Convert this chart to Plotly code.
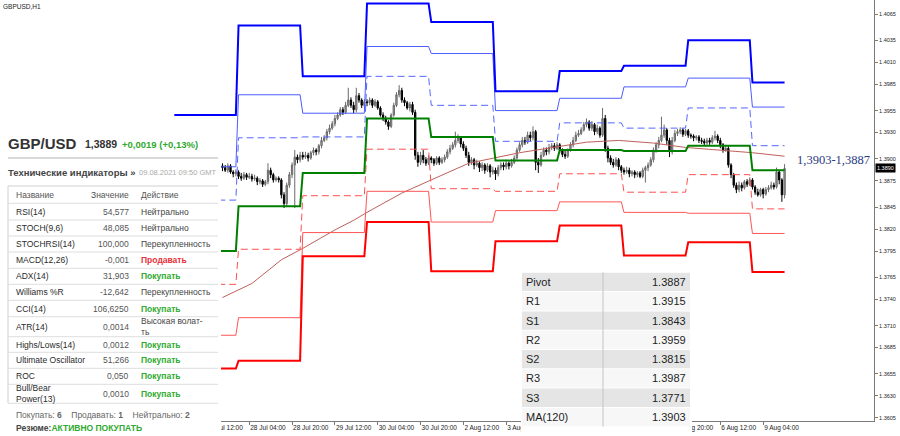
import plotly.graph_objects as go

# ---------------- DATA ----------------
# bar index: 0 = 27 Jul 00:00 (H1 bars, weekends skipped)
first_bar = 18
opens = [
    1.3892, 1.3890, 1.3887, 1.3892, 1.3885, 1.3883, 1.3885, 1.3880, 1.3878, 1.3882,
    1.3879, 1.3880, 1.3877, 1.3878, 1.3874, 1.3875, 1.3871, 1.3874, 1.3887, 1.3882,
    1.3876, 1.3878, 1.3876, 1.3859, 1.3849, 1.3870, 1.3882, 1.3893, 1.3902, 1.3899,
    1.3904, 1.3902, 1.3904, 1.3901, 1.3907, 1.3910, 1.3908, 1.3915, 1.3921, 1.3924,
    1.3931, 1.3935, 1.3940, 1.3946, 1.3950, 1.3956, 1.3953, 1.3961, 1.3967, 1.3961,
    1.3956, 1.3972, 1.3967, 1.3961, 1.3965, 1.3964, 1.3967, 1.3961, 1.3965, 1.3958,
    1.3950, 1.3946, 1.3942, 1.3937, 1.3950, 1.3961, 1.3973, 1.3978, 1.3967, 1.3964,
    1.3958, 1.3962, 1.3953, 1.3904, 1.3896, 1.3904, 1.3899, 1.3895, 1.3901, 1.3899,
    1.3895, 1.3901, 1.3896, 1.3899, 1.3902, 1.3908, 1.3912, 1.3916, 1.3921, 1.3924,
    1.3917, 1.3912, 1.3904, 1.3896, 1.3899, 1.3893, 1.3895, 1.3890, 1.3893, 1.3887,
    1.3892, 1.3885, 1.3887, 1.3883, 1.3890, 1.3893, 1.3891, 1.3895, 1.3892, 1.3896,
    1.3901, 1.3910, 1.3916, 1.3921, 1.3919, 1.3927, 1.3924, 1.3931, 1.3896, 1.3893,
    1.3904, 1.3910, 1.3908, 1.3913, 1.3915, 1.3912, 1.3916, 1.3910, 1.3905, 1.3903,
    1.3910, 1.3916, 1.3921, 1.3927, 1.3929, 1.3933, 1.3939, 1.3942, 1.3935, 1.3939,
    1.3931, 1.3935, 1.3927, 1.3946, 1.3912, 1.3901, 1.3896, 1.3893, 1.3899, 1.3891,
    1.3887, 1.3885, 1.3887, 1.3883, 1.3885, 1.3882, 1.3884, 1.3880, 1.3887, 1.3890,
    1.3893, 1.3899, 1.3910, 1.3916, 1.3921, 1.3927, 1.3933, 1.3921, 1.3908, 1.3921,
    1.3929, 1.3931, 1.3933, 1.3928, 1.3932, 1.3927, 1.3926, 1.3924, 1.3925, 1.3921,
    1.3920, 1.3918, 1.3921, 1.3919, 1.3924, 1.3926, 1.3921, 1.3916, 1.3910, 1.3912,
    1.3893, 1.3882, 1.3870, 1.3865, 1.3870, 1.3867, 1.3874, 1.3871, 1.3876, 1.3868,
    1.3862, 1.3859, 1.3865, 1.3860, 1.3865, 1.3867, 1.3870, 1.3868, 1.3885, 1.3876,
    1.3859,
]
highs = [
    1.3895, 1.3893, 1.3895, 1.3894, 1.3887, 1.3888, 1.3887, 1.3884, 1.3885, 1.3884,
    1.3884, 1.3883, 1.3882, 1.3880, 1.3878, 1.3877, 1.3876, 1.3895, 1.3890, 1.3884,
    1.3880, 1.3880, 1.3878, 1.3862, 1.3873, 1.3885, 1.3896, 1.3910, 1.3905, 1.3908,
    1.3908, 1.3908, 1.3907, 1.3909, 1.3913, 1.3912, 1.3917, 1.3925, 1.3927, 1.3934,
    1.3939, 1.3943, 1.3950, 1.3953, 1.3959, 1.3959, 1.3965, 1.3981, 1.3970, 1.3965,
    1.3981, 1.3975, 1.3969, 1.3968, 1.3968, 1.3970, 1.3969, 1.3968, 1.3967, 1.3960,
    1.3953, 1.3949, 1.3944, 1.3952, 1.3964, 1.3976, 1.3984, 1.3981, 1.3970, 1.3966,
    1.3965, 1.3965, 1.3956, 1.3908, 1.3908, 1.3910, 1.3902, 1.3904, 1.3903, 1.3901,
    1.3903, 1.3903, 1.3902, 1.3905, 1.3911, 1.3916, 1.3919, 1.3931, 1.3928, 1.3926,
    1.3920, 1.3915, 1.3908, 1.3902, 1.3901, 1.3899, 1.3897, 1.3896, 1.3895, 1.3895,
    1.3894, 1.3891, 1.3890, 1.3893, 1.3896, 1.3896, 1.3899, 1.3897, 1.3900, 1.3904,
    1.3913, 1.3919, 1.3925, 1.3925, 1.3931, 1.3931, 1.3937, 1.3933, 1.3901, 1.3908,
    1.3913, 1.3913, 1.3917, 1.3918, 1.3918, 1.3919, 1.3918, 1.3912, 1.3909, 1.3912,
    1.3919, 1.3925, 1.3931, 1.3933, 1.3936, 1.3942, 1.3946, 1.3944, 1.3943, 1.3941,
    1.3939, 1.3937, 1.3958, 1.3950, 1.3915, 1.3904, 1.3900, 1.3902, 1.3901, 1.3893,
    1.3890, 1.3891, 1.3890, 1.3887, 1.3887, 1.3886, 1.3886, 1.3890, 1.3892, 1.3896,
    1.3902, 1.3913, 1.3919, 1.3925, 1.3948, 1.3939, 1.3935, 1.3924, 1.3925, 1.3933,
    1.3934, 1.3936, 1.3935, 1.3934, 1.3934, 1.3929, 1.3928, 1.3927, 1.3927, 1.3924,
    1.3923, 1.3924, 1.3924, 1.3927, 1.3932, 1.3928, 1.3924, 1.3918, 1.3916, 1.3915,
    1.3895, 1.3884, 1.3873, 1.3874, 1.3873, 1.3876, 1.3877, 1.3879, 1.3878, 1.3870,
    1.3866, 1.3867, 1.3867, 1.3868, 1.3870, 1.3874, 1.3873, 1.3890, 1.3887, 1.3878,
    1.3894,
]
lows = [
    1.3886, 1.3885, 1.3884, 1.3883, 1.3879, 1.3880, 1.3877, 1.3875, 1.3876, 1.3876,
    1.3877, 1.3874, 1.3875, 1.3870, 1.3871, 1.3868, 1.3869, 1.3871, 1.3878, 1.3873,
    1.3874, 1.3873, 1.3855, 1.3844, 1.3846, 1.3867, 1.3878, 1.3844, 1.3895, 1.3896,
    1.3899, 1.3900, 1.3897, 1.3899, 1.3904, 1.3904, 1.3905, 1.3912, 1.3919, 1.3921,
    1.3928, 1.3933, 1.3937, 1.3944, 1.3948, 1.3950, 1.3951, 1.3959, 1.3958, 1.3952,
    1.3953, 1.3964, 1.3958, 1.3959, 1.3960, 1.3961, 1.3958, 1.3959, 1.3956, 1.3948,
    1.3943, 1.3939, 1.3933, 1.3935, 1.3948, 1.3959, 1.3970, 1.3964, 1.3960, 1.3956,
    1.3954, 1.3950, 1.3899, 1.3891, 1.3893, 1.3895, 1.3892, 1.3893, 1.3895, 1.3892,
    1.3893, 1.3893, 1.3894, 1.3896, 1.3900, 1.3905, 1.3910, 1.3913, 1.3918, 1.3913,
    1.3909, 1.3901, 1.3892, 1.3893, 1.3888, 1.3891, 1.3885, 1.3886, 1.3883, 1.3885,
    1.3879, 1.3882, 1.3876, 1.3880, 1.3887, 1.3887, 1.3888, 1.3888, 1.3890, 1.3894,
    1.3899, 1.3908, 1.3913, 1.3916, 1.3917, 1.3920, 1.3921, 1.3887, 1.3884, 1.3891,
    1.3902, 1.3904, 1.3905, 1.3910, 1.3909, 1.3910, 1.3907, 1.3902, 1.3900, 1.3901,
    1.3908, 1.3913, 1.3919, 1.3925, 1.3927, 1.3931, 1.3936, 1.3932, 1.3932, 1.3927,
    1.3928, 1.3924, 1.3925, 1.3908, 1.3896, 1.3893, 1.3890, 1.3891, 1.3887, 1.3884,
    1.3882, 1.3883, 1.3879, 1.3880, 1.3878, 1.3879, 1.3878, 1.3878, 1.3873, 1.3886,
    1.3891, 1.3896, 1.3907, 1.3912, 1.3919, 1.3924, 1.3916, 1.3902, 1.3905, 1.3919,
    1.3926, 1.3928, 1.3925, 1.3926, 1.3924, 1.3923, 1.3920, 1.3921, 1.3918, 1.3917,
    1.3915, 1.3916, 1.3916, 1.3917, 1.3921, 1.3918, 1.3912, 1.3907, 1.3908, 1.3890,
    1.3878, 1.3867, 1.3861, 1.3862, 1.3863, 1.3865, 1.3868, 1.3869, 1.3865, 1.3859,
    1.3857, 1.3857, 1.3855, 1.3858, 1.3862, 1.3865, 1.3865, 1.3866, 1.3871, 1.3851,
    1.3855,
]
closes = [
    1.3890, 1.3887, 1.3892, 1.3885, 1.3883, 1.3885, 1.3880, 1.3878, 1.3882, 1.3879,
    1.3880, 1.3877, 1.3878, 1.3874, 1.3875, 1.3871, 1.3874, 1.3887, 1.3882, 1.3876,
    1.3878, 1.3876, 1.3859, 1.3849, 1.3870, 1.3882, 1.3893, 1.3902, 1.3899, 1.3904,
    1.3902, 1.3904, 1.3901, 1.3907, 1.3910, 1.3908, 1.3915, 1.3921, 1.3924, 1.3931,
    1.3935, 1.3940, 1.3946, 1.3950, 1.3956, 1.3953, 1.3961, 1.3967, 1.3961, 1.3956,
    1.3972, 1.3967, 1.3961, 1.3965, 1.3964, 1.3967, 1.3961, 1.3965, 1.3958, 1.3950,
    1.3946, 1.3942, 1.3937, 1.3950, 1.3961, 1.3973, 1.3978, 1.3967, 1.3964, 1.3958,
    1.3962, 1.3953, 1.3904, 1.3896, 1.3904, 1.3899, 1.3895, 1.3901, 1.3899, 1.3895,
    1.3901, 1.3896, 1.3899, 1.3902, 1.3908, 1.3912, 1.3916, 1.3921, 1.3924, 1.3917,
    1.3912, 1.3904, 1.3896, 1.3899, 1.3893, 1.3895, 1.3890, 1.3893, 1.3887, 1.3892,
    1.3885, 1.3887, 1.3883, 1.3890, 1.3893, 1.3891, 1.3895, 1.3892, 1.3896, 1.3901,
    1.3910, 1.3916, 1.3921, 1.3919, 1.3927, 1.3924, 1.3931, 1.3896, 1.3893, 1.3904,
    1.3910, 1.3908, 1.3913, 1.3915, 1.3912, 1.3916, 1.3910, 1.3905, 1.3903, 1.3910,
    1.3916, 1.3921, 1.3927, 1.3929, 1.3933, 1.3939, 1.3942, 1.3935, 1.3939, 1.3931,
    1.3935, 1.3927, 1.3946, 1.3912, 1.3901, 1.3896, 1.3893, 1.3899, 1.3891, 1.3887,
    1.3885, 1.3887, 1.3883, 1.3885, 1.3882, 1.3884, 1.3880, 1.3887, 1.3890, 1.3893,
    1.3899, 1.3910, 1.3916, 1.3921, 1.3927, 1.3933, 1.3921, 1.3908, 1.3921, 1.3929,
    1.3931, 1.3933, 1.3928, 1.3932, 1.3927, 1.3926, 1.3924, 1.3925, 1.3921, 1.3920,
    1.3918, 1.3921, 1.3919, 1.3924, 1.3926, 1.3921, 1.3916, 1.3910, 1.3912, 1.3893,
    1.3882, 1.3870, 1.3865, 1.3870, 1.3867, 1.3874, 1.3871, 1.3876, 1.3868, 1.3862,
    1.3859, 1.3865, 1.3860, 1.3865, 1.3867, 1.3870, 1.3868, 1.3885, 1.3876, 1.3859,
    1.3889,
]

# daily pivot levels (one value per trading day)
pivot_days = ["27 Jul", "28 Jul", "29 Jul", "30 Jul", "2 Aug", "3 Aug", "4 Aug", "5 Aug", "6 Aug", "9 Aug"]
r3 = [1.3950, 1.4052, 1.3994, 1.4077, 1.4056, 1.3977, 1.4000, 1.4006, 1.4035, 1.3987]
r2 = [1.3891, 1.3973, 1.3952, 1.4028, 1.4020, 1.3955, 1.3969, 1.3982, 1.3992, 1.3959]
r1 = [1.3853, 1.3924, 1.3925, 1.3994, 1.3961, 1.3920, 1.3941, 1.3935, 1.3958, 1.3915]
pp = [1.3795, 1.3846, 1.3884, 1.3946, 1.3925, 1.3898, 1.3910, 1.3909, 1.3915, 1.3887]
s1 = [1.3757, 1.3797, 1.3858, 1.3911, 1.3866, 1.3863, 1.3883, 1.3862, 1.3882, 1.3843]
s2 = [1.3699, 1.3719, 1.3816, 1.3863, 1.3828, 1.3841, 1.3851, 1.3839, 1.3838, 1.3815]
s3 = [1.3661, 1.3670, 1.3789, 1.3828, 1.3772, 1.3806, 1.3824, 1.3790, 1.3805, 1.3771]

# MA(120)
ma_bars = [18, 29, 40, 48, 60, 67, 72, 85, 96, 110, 129, 141, 154, 166, 179, 191, 204, 216, 228]
ma_vals = [1.3742, 1.3758, 1.3785, 1.3798, 1.3819, 1.3830, 1.3839, 1.3861, 1.3876, 1.3895,
           1.3907, 1.3913, 1.3919, 1.3921, 1.3918, 1.3913, 1.3910, 1.3907, 1.3903]

ytick_vals = [1.4065, 1.4035, 1.4010, 1.3985, 1.3955, 1.3930, 1.3900, 1.3875, 1.3845,
              1.3820, 1.3795, 1.3765, 1.3740, 1.3710, 1.3685, 1.3655, 1.3630, 1.3605]
xtick_bars = [12, 28, 44, 60, 76, 92, 108, 124, 140, 156, 172, 188, 204, 220]
xtick_text = ["27 Jul 12:00", "28 Jul 04:00", "28 Jul 20:00", "29 Jul 12:00", "30 Jul 04:00",
              "30 Jul 20:00", "2 Aug 12:00", "3 Aug 04:00", "3 Aug 20:00", "4 Aug 12:00",
              "5 Aug 04:00", "5 Aug 20:00", "6 Aug 12:00", "9 Aug 04:00"]
last_price = 1.3890
range_label = "1,3903-1,3887"

# indicator panel
ind_names = ["RSI(14)", "STOCH(9,6)", "STOCHRSI(14)", "MACD(12,26)", "ADX(14)", "Williams %R",
             "CCI(14)", "ATR(14)", "Highs/Lows(14)", "Ultimate Oscillator", "ROC", "Bull/Bear<br>Power(13)"]
ind_values = ["54,577", "48,085", "100,000", "-0,001", "31,903", "-12,642", "106,6250",
              "0,0014", "0,0012", "51,266", "0,050", "0,0010"]
ind_actions = ["Нейтрально", "Нейтрально", "Перекупленность", "Продавать", "Покупать",
               "Перекупленность", "Покупать", "Высокая волат-<br>ть", "Покупать", "Покупать",
               "Покупать", "Покупать"]

# pivot table
pivot_labels = ["Pivot", "R1", "S1", "R2", "S2", "R3", "S3", "MA(120)"]
pivot_values = ["1.3887", "1.3915", "1.3843", "1.3959", "1.3815", "1.3987", "1.3771", "1.3903"]

# ---------------- FIGURE ----------------
assert len(opens) == len(highs) == len(lows) == len(closes)
bars = list(range(first_bar, first_bar + len(closes)))
last_bar = bars[-1]

W, H = 900, 436
ML, MR, MT, MB = 0, 26, 0, 15
PW, PH = W - ML - MR, H - MT - MB


def px(x):
    return (x - ML) / PW


def py(y):
    return (PH + MT - y) / PH


fig = go.Figure()


def steps(levels):
    xs, ys = [], []
    for i, v in enumerate(levels):
        s = i * 24
        e = min(s + 23, last_bar)
        xs += [s, e]
        ys += [v, v]
    return xs, ys


fig.add_trace(go.Scatter(x=ma_bars, y=ma_vals, mode="lines",
                         line=dict(color="#c0605a", width=1), hoverinfo="skip"))
for lv, col, wd, dash in [
    (r2, "#4d5cff", 1, "solid"), (r1, "#5566ff", 1, "7px,4px"),
    (s1, "#ff5050", 1, "7px,4px"), (s2, "#ff5555", 1, "solid"),
    (r3, "#0000ff", 2, "solid"), (s3, "#ff0000", 2, "solid"), (pp, "#008000", 2, "solid"),
]:
    xs, ys = steps(lv)
    fig.add_trace(go.Scatter(x=xs, y=ys, mode="lines",
                             line=dict(color=col, width=wd, dash=dash), hoverinfo="skip"))

fig.add_trace(go.Candlestick(
    x=bars, open=opens, high=highs, low=lows, close=closes,
    increasing=dict(line=dict(color="#6a6a6a", width=1), fillcolor="#a0a0a0"),
    decreasing=dict(line=dict(color="#000000", width=1), fillcolor="#000000"),
    whiskerwidth=0, hoverinfo="skip"))

shapes = []
annotations = []
FONT = "Liberation Sans, Arial, sans-serif"


def rect(x0, y0, x1, y1, fill):
    shapes.append(dict(type="rect", xref="paper", yref="paper", x0=px(x0), x1=px(x1),
                       y0=py(y1), y1=py(y0), fillcolor=fill, line=dict(width=0), layer="above"))


def line(x0, y0, x1, y1, color, width=1):
    shapes.append(dict(type="line", xref="paper", yref="paper", x0=px(x0), x1=px(x1),
                       y0=py(y0), y1=py(y1), line=dict(color=color, width=width), layer="above"))


def txt(x, y, s, size=8.5, color="#333", bold=False, xanchor="left", family=FONT, **kw):
    if bold:
        s = "<b>" + s + "</b>"
    annotations.append(dict(x=px(x), y=py(y), xref="paper", yref="paper", text=s, showarrow=False,
                            xanchor=xanchor, yanchor="middle", borderpad=0,
                            font=dict(size=size, color=color, family=family), **kw))


# chart labels
txt(2, 6, "GBPUSD,H1", size=6.5, color="#222")
txt(796, 160, range_label, size=12.5, color="#2b3a80", family="Liberation Serif, Times New Roman, serif")
annotations.append(dict(x=px(875), y=last_price, xref="paper", yref="y", text=f"{last_price:.4f}",
                        showarrow=False, xanchor="left", yanchor="middle", bgcolor="#000000",
                        borderpad=1, font=dict(size=5.5, color="#ffffff", family=FONT)))

# ---- left indicator panel ----
GREEN = "#2faa2f"
RED = "#e8303a"
rect(0, 124, 221, 436, "#ffffff")
txt(7, 143, "GBP/USD", size=15, color="#333", bold=True)
txt(84, 144, "1,3889", size=10.5, color="#333", bold=True)
txt(121, 144, "+0,0019 (+0,13%)", size=9.5, color=GREEN, bold=True)
line(8, 158, 218, 158, "#d9d9d9", 2)
txt(7, 172, "Технические индикаторы »", size=9.5, color="#444", bold=True)
txt(218, 172, "09.08.2021 09:50 GMT", size=7.5, color="#aaaaaa", xanchor="right")

line(8, 186, 218, 186, "#d0d0d0")
line(8, 186, 8, 403, "#d0d0d0")
txt(15, 195, "Название", size=8.5, color="#555")
txt(130, 195, "Значение", size=8.5, color="#555", xanchor="right")
txt(140, 195, "Действие", size=8.5, color="#555")
row_edges = [203.3, 220, 236, 252, 268.3, 284.3, 300.3, 316.7, 336.7, 352.3, 368.3, 384.3, 403.3]
for yb in row_edges:
    line(8, yb, 218, yb, "#dedede")
for i, (nm, vl, ac) in enumerate(zip(ind_names, ind_values, ind_actions)):
    yc = (row_edges[i] + row_edges[i + 1]) / 2
    txt(15, yc, nm, size=8.5, color="#2a2a2a", align="left")
    txt(130, yc, vl, size=8.5, color="#555", xanchor="right")
    if ac == "Покупать":
        txt(140, yc, ac, size=8.5, color=GREEN, bold=True)
    elif ac == "Продавать":
        txt(140, yc, ac, size=8.5, color=RED, bold=True)
    else:
        txt(140, yc, ac, size=8.5, color="#444", align="left")
nb = "\u00a0"
txt(15, 414.5, f"Покупать: <b>6</b>{nb*4}Продавать: <b>1</b>{nb*4}Нейтрально: <b>2</b>",
    size=8.5, color="#666")
txt(15, 428, f"<b>Резюме:</b><b><span style='color:{GREEN}'>АКТИВНО ПОКУПАТЬ</span></b>",
    size=8.5, color="#444")

# ---- pivot table ----
rect(521, 266, 692, 436, "#ffffff")
top, rh = 272.3, 19.3
for i, (lb, vl) in enumerate(zip(pivot_labels, pivot_values)):
    y0 = top + i * rh
    rect(522, y0 + 0.5, 690, y0 + rh - 0.5, "#e5e5e5" if i % 2 == 0 else "#f7f7f7")
    txt(525, y0 + rh / 2, lb, size=11, color="#1e1e1e")
    txt(687, y0 + rh / 2, vl, size=11, color="#1e1e1e", xanchor="right")
line(603, top, 603, top + 8 * rh, "#c4c4c4")

fig.update_layout(
    width=W, height=H, margin=dict(l=ML, r=MR, t=MT, b=MB),
    paper_bgcolor="#ffffff", plot_bgcolor="#ffffff", showlegend=False, hovermode=False,
    shapes=shapes, annotations=annotations,
    xaxis=dict(range=[-65.12, 261.41], showgrid=False, zeroline=False, showline=True,
               linecolor="#7a7a7a", linewidth=1, ticks="outside", ticklen=3, tickcolor="#7a7a7a",
               tickvals=xtick_bars, ticktext=xtick_text, ticklabelposition="outside right",
               tickangle=0, tickfont=dict(size=6.5, color="#222", family=FONT),
               rangeslider=dict(visible=False), fixedrange=True),
    yaxis=dict(range=[1.36013, 1.40810], side="right", showgrid=False, zeroline=False,
               showline=True, linecolor="#7a7a7a", linewidth=1, ticks="outside", ticklen=3,
               tickcolor="#7a7a7a", tickvals=ytick_vals, ticktext=[f"{v:.4f}" for v in ytick_vals],
               tickfont=dict(size=5.5, color="#222", family=FONT), fixedrange=True),
)

fig.write_html("out.html", config={"displayModeBar": False},
               post_script="document.body.style.margin='0';document.body.style.overflow='hidden';")
